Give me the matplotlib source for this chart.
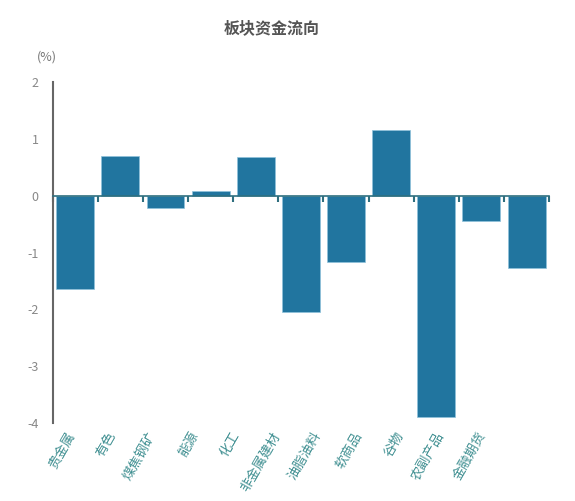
import numpy as np
import matplotlib
matplotlib.use('Agg')
import matplotlib.pyplot as plt

plt.rcParams['font.family'] = ['Noto Sans CJK SC', 'DejaVu Sans']

# sector fund flow (%)
sectors = ['贵金属', '有色', '煤焦钢矿', '能源', '化工', '非金属建材',
           '油脂油料', '软商品', '谷物', '农副产品', '金融期货']
flow = [-1.64, 0.70, -0.22, 0.08, 0.68, -2.05, -1.16, 1.15, -3.89, -0.44, -1.27]
yticks = [-4, -3, -2, -1, 0, 1, 2]

bar_color = '#21759f'
label_color = '#3f8f91'

fig = plt.figure(figsize=(5.75, 5.01), dpi=100)
ax = fig.add_axes([0.0917, 0.1557, 0.8633, 0.6806])

x = np.arange(len(sectors))
ax.bar(x, flow, width=0.84, color=bar_color, edgecolor='#8fc3dc', linewidth=0.5, zorder=2)

ax.set_xlim(-0.5, len(sectors) - 0.5)
ax.set_ylim(-4, 2)
ax.set_yticks(yticks)
ax.set_yticklabels([str(v) for v in yticks], color='#888888', fontsize=9)
ax.tick_params(axis='y', length=0, pad=10)

# x axis sits on zero, ticks between categories
ax.spines['bottom'].set_position(('data', 0))
ax.spines['bottom'].set_color('#2f6f7f')
ax.spines['bottom'].set_linewidth(1.2)
ax.set_xticks(np.arange(len(sectors) + 1) - 0.5)
ax.set_xticklabels([])
ax.tick_params(axis='x', length=4, width=1.5, color='#2f6f7f', direction='out')

ax.spines['left'].set_color('#666666')
ax.spines['left'].set_linewidth(1.5)
ax.spines['top'].set_visible(False)
ax.spines['right'].set_visible(False)

# rotated category labels below the plot area
for i, name in enumerate(sectors):
    ax.text(i * 0.91 - 0.07, -0.03, name, transform=ax.get_xaxis_transform(),
            rotation=60, rotation_mode='anchor', ha='right', va='center',
            fontsize=9.5, color=label_color)

fig.text(0.473, 0.944, '板块资金流向', ha='center', va='center',
         fontsize=11.5, fontweight='bold', color='#555555')
fig.text(0.082, 0.886, '(%)', ha='center', va='center', fontsize=9, color='#777777')

fig.savefig('out.png', dpi=100)
